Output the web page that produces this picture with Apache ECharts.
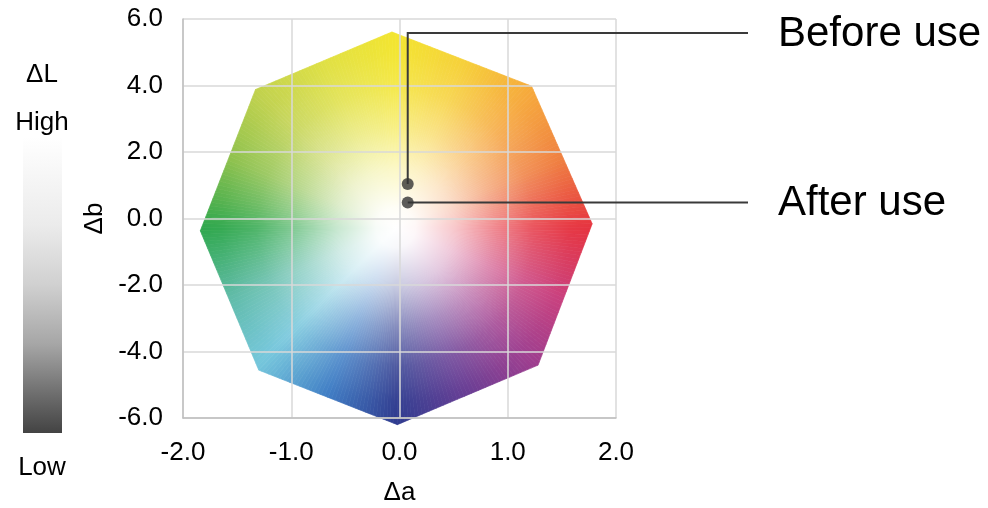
<!DOCTYPE html>
<html>
<head>
<meta charset="utf-8">
<script src="https://cdn.jsdelivr.net/npm/echarts@6/dist/echarts.min.js"></script>
<style>
html,body{margin:0;padding:0;background:#fff;}
#chart{width:988px;height:508px;}
</style>
</head>
<body>
<div id="chart"></div>
<script>
// ---- data ----
const xTicks = [-2.0, -1.0, 0.0, 1.0, 2.0];
const yTicks = [-6.0, -4.0, -2.0, 0.0, 2.0, 4.0, 6.0];
// octagon (colour gamut) vertices, clockwise from top
const octagonA = [-0.07, 1.22, 1.78, 1.28, -0.02, -1.30, -1.84, -1.33];
const octagonB = [5.61, 3.98, -0.16, -4.41, -6.20, -4.56, -0.37, 3.88];
// measured points
const pointNames = ['Before use', 'After use'];
const pointA = [0.076, 0.076];
const pointB = [1.04, 0.48];
const legendTitle = 'ΔL';
const legendHigh = 'High';
const legendLow = 'Low';

// ---- styles ----
const FONT = '"Liberation Sans", Arial, sans-serif';
// hue stops by direction (deg, clockwise from up)
const hueStops = [
  [0, '#f3e52e'], [22.5, '#f6cf36'], [45, '#f6a83a'], [67.5, '#ef7d3c'],
  [90, '#e6333f'], [112.5, '#c93c7a'], [135, '#9c3c8e'], [157.5, '#643a92'],
  [180, '#2e3b8f'], [202.5, '#3d7cc4'], [225, '#74c6dc'], [247.5, '#5cbaa6'],
  [270, '#2ea74c'], [292.5, '#8cc04a'], [315, '#c2d24c'], [337.5, '#e0e040'],
  [360, '#f3e52e']
];
function hex2rgb(h){return [parseInt(h.substr(1,2),16),parseInt(h.substr(3,2),16),parseInt(h.substr(5,2),16)];}
function hueAt(ang){
  ang = ((ang % 360) + 360) % 360;
  for (let i = 0; i < hueStops.length - 1; i++) {
    const a0 = hueStops[i][0], a1 = hueStops[i+1][0];
    if (ang >= a0 && ang <= a1) {
      const t = (ang - a0) / (a1 - a0);
      const c0 = hex2rgb(hueStops[i][1]), c1 = hex2rgb(hueStops[i+1][1]);
      const c = c0.map((v, k) => Math.round(v + (c1[k] - v) * t));
      return 'rgb(' + c.join(',') + ')';
    }
  }
  return hueStops[0][1];
}

const chart = echarts.init(document.getElementById('chart'), null, {renderer: 'canvas'});

const gamutSeries = {
  type: 'custom',
  z: 1,
  silent: true,
  clip: false,
  data: [[0, 0]],
  renderItem: function (params, api) {
    const pts = octagonA.map((a, i) => api.coord([a, octagonB[i]]));
    let cx = 0, cy = 0;
    pts.forEach(p => { cx += p[0]; cy += p[1]; });
    cx /= pts.length; cy /= pts.length;
    let R = 0;
    pts.forEach(p => { R = Math.max(R, Math.hypot(p[0]-cx, p[1]-cy)); });
    const children = [];
    const SUB = 40;
    for (let i = 0; i < pts.length; i++) {
      const p0 = pts[i], p1 = pts[(i+1) % pts.length];
      for (let k = 0; k < SUB; k++) {
        const t0 = k / SUB, t1 = (k+1) / SUB;
        const a = [p0[0] + (p1[0]-p0[0])*t0, p0[1] + (p1[1]-p0[1])*t0];
        const b = [p0[0] + (p1[0]-p0[0])*t1, p0[1] + (p1[1]-p0[1])*t1];
        const mx = (a[0]+b[0])/2, my = (a[1]+b[1])/2;
        const ang = Math.atan2(mx - cx, -(my - cy)) * 180 / Math.PI;
        const col = hueAt(ang);
        children.push({type: 'polygon', shape: {points: [[cx, cy], a, b]},
          style: {fill: col, stroke: col, lineWidth: 0.7}});
      }
    }
    children.push({type: 'polygon', shape: {points: pts},
      style: {fill: {type: 'radial', x: cx, y: cy, r: R, global: true, colorStops: [
        {offset: 0, color: 'rgba(255,255,255,1)'},
        {offset: 0.1, color: 'rgba(255,255,255,0.96)'},
        {offset: 0.3, color: 'rgba(255,255,255,0.72)'},
        {offset: 0.5, color: 'rgba(255,255,255,0.42)'},
        {offset: 0.7, color: 'rgba(255,255,255,0.16)'},
        {offset: 0.88, color: 'rgba(255,255,255,0.03)'},
        {offset: 1, color: 'rgba(255,255,255,0)'}
      ]}}});
    return {type: 'group', children: children};
  }
};

const LABEL_X = 778, LINE_END_X = 748, TOP_LABEL_Y = 33;
const leaderSeries = {
  type: 'custom',
  z: 6,
  silent: true,
  clip: false,
  data: pointA.map((a, i) => [a, pointB[i], i]),
  renderItem: function (params, api) {
    const i = api.value(2);
    const p = api.coord([api.value(0), api.value(1)]);
    const ly = i === 0 ? TOP_LABEL_Y : p[1];
    const pts = i === 0 ? [p, [p[0], ly], [LINE_END_X, ly]] : [p, [LINE_END_X, ly]];
    return {type: 'group', children: [
      {type: 'polyline', shape: {points: pts}, style: {stroke: '#3a3a3a', lineWidth: 2, fill: null}},
      {type: 'text', style: {text: pointNames[i], x: LABEL_X, y: ly + 1, verticalAlign: 'middle',
        align: 'left', font: '42px ' + FONT, fill: '#000'}}
    ]};
  }
};

const option = {
  backgroundColor: '#fff',
  animation: false,
  grid: {left: 183, right: 372, top: 19, bottom: 90, containLabel: false, outerBoundsMode: 'none'},
  xAxis: {
    type: 'value', min: -2, max: 2, interval: 1, z: 3,
    name: 'Δa', nameLocation: 'middle', nameGap: 62,
    nameTextStyle: {fontSize: 26, color: '#000', fontFamily: FONT},
    axisLine: {show: true, onZero: false, lineStyle: {color: '#bfbfbf', width: 1.5}},
    axisTick: {show: false},
    axisLabel: {fontSize: 26, color: '#000', fontFamily: FONT, margin: 22,
      formatter: v => v.toFixed(1)},
    splitLine: {show: true, lineStyle: {color: '#d9d9d9', width: 1.5}}
  },
  yAxis: {
    type: 'value', min: -6, max: 6, interval: 2, z: 3,
    name: 'Δb', nameLocation: 'middle', nameGap: 75, nameRotate: 90,
    nameTextStyle: {fontSize: 26, color: '#000', fontFamily: FONT},
    axisLine: {show: true, onZero: false, lineStyle: {color: '#bfbfbf', width: 1.5}},
    axisTick: {show: false},
    axisLabel: {fontSize: 26, color: '#000', fontFamily: FONT, margin: 20,
      padding: [3, 0, 0, 0], formatter: v => v.toFixed(1)},
    splitLine: {show: true, lineStyle: {color: '#d9d9d9', width: 1.5}}
  },
  graphic: [
    {type: 'text', x: 42, y: 75, style: {text: legendTitle,
      align: 'center', verticalAlign: 'middle', font: '26px ' + FONT, fill: '#000'}},
    {type: 'text', x: 42, y: 123, style: {text: legendHigh, align: 'center', verticalAlign: 'middle',
      font: '26px ' + FONT, fill: '#000'}},
    {type: 'text', x: 42, y: 468, style: {text: legendLow, align: 'center', verticalAlign: 'middle',
      font: '26px ' + FONT, fill: '#000'}},
    {type: 'rect', shape: {x: 23, y: 137, width: 39, height: 296},
      style: {fill: {type: 'linear', x: 0, y: 0, x2: 0, y2: 1, colorStops: [
        {offset: 0, color: '#ffffff'},
        {offset: 0.3, color: '#ebebeb'},
        {offset: 0.5, color: '#d0d0d0'},
        {offset: 0.7, color: '#a6a6a6'},
        {offset: 0.88, color: '#6a6a6a'},
        {offset: 1, color: '#434343'}
      ]}}}
  ],
  series: [
    gamutSeries,
    leaderSeries,
    {
      type: 'scatter', z: 7, symbol: 'circle', symbolSize: 12,
      itemStyle: {color: '#333333'},
      data: pointA.map((a, i) => [a, pointB[i]])
    }
  ]
};
chart.setOption(option);
</script>
</body>
</html>
